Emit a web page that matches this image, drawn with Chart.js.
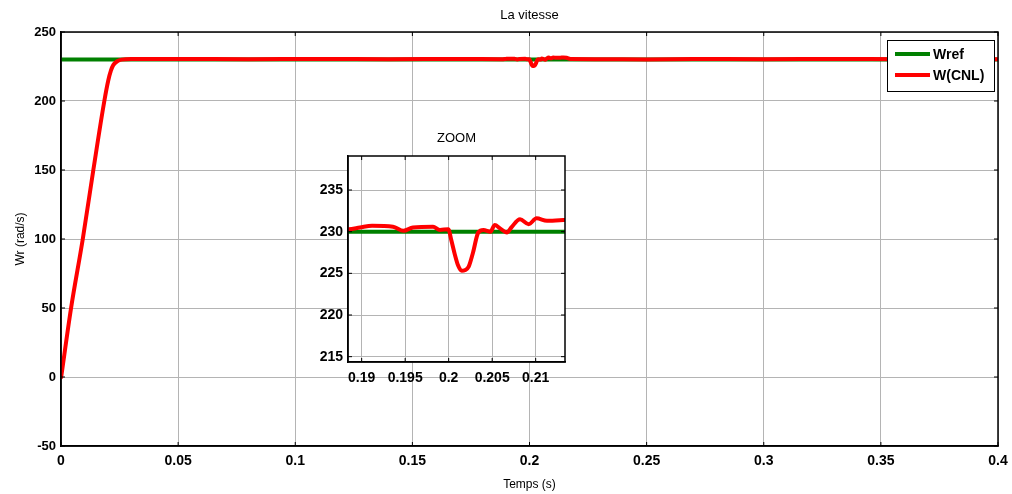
<!DOCTYPE html>
<html>
<head>
<meta charset="utf-8">
<script src="https://cdn.jsdelivr.net/npm/chart.js@4"></script>
<style>
  body { margin: 0; background: #fff; }
  #wrap { position: relative; width: 1012px; height: 494px; }
  #main { position: absolute; left: 0; top: 0; width: 1012px; height: 494px; }
  #zoom { position: absolute; left: 290px; top: 120px; width: 290px; height: 270px; }
</style>
</head>
<body>
<div id="wrap">
  <div id="main"><canvas id="mainChart"></canvas></div>
  <div id="zoom"><canvas id="zoomChart"></canvas></div>
</div>
<script>
// reference speed
const timeRef = [0, 0.4];
const wRef = [230, 230];

// measured speed W(CNL)
const timeW = [
  0, 0.0043, 0.0093, 0.0138, 0.0185, 0.0202, 0.0213, 0.0223, 0.024, 0.0259, 0.03,
  0.05, 0.08, 0.11, 0.14, 0.17,
  0.1885, 0.1898, 0.1912, 0.1936, 0.1948, 0.1959, 0.1982, 0.199, 0.19996,
  0.2003, 0.2007, 0.2011, 0.2015, 0.2019, 0.2023, 0.2028, 0.2034,
  0.204, 0.2048, 0.2053, 0.2059, 0.2067, 0.2072, 0.2082, 0.2092, 0.2101, 0.2113,
  0.2132, 0.2145, 0.2158, 0.2175,
  0.23, 0.25, 0.27, 0.3, 0.33, 0.36, 0.38, 0.4
];
const wCNL = [
  -1, 50, 100, 150, 200, 215, 222, 226, 228.8, 230, 230.4,
  230.4, 230.3, 230.5, 230.3, 230.4,
  230.3, 230.5, 230.7, 230.6, 230.1, 230.5, 230.6, 230.2, 230.3,
  229.0, 227.3, 225.9, 225.3, 225.4, 225.8, 227.5, 229.9,
  230.2, 230.0, 230.8, 230.4, 229.9, 230.5, 231.5, 230.9, 231.6, 231.3,
  231.4, 231.5, 231.3, 230.4,
  230.3, 230.1, 230.4, 230.3, 230.4, 230.3, 230.4, 230.3
];

const seriesNames = ['Wref', 'W(CNL)'];
const seriesColors = ['#008000', '#ff0000'];

const mainXTicks = [0, 0.05, 0.1, 0.15, 0.2, 0.25, 0.3, 0.35, 0.4];
const mainXLabels = ['0', '0.05', '0.1', '0.15', '0.2', '0.25', '0.3', '0.35', '0.4'];
const mainYTicks = [-50, 0, 50, 100, 150, 200, 250];

const zoomXTicks = [0.19, 0.195, 0.2, 0.205, 0.21];
const zoomXLabels = ['0.19', '0.195', '0.2', '0.205', '0.21'];
const zoomYTicks = [215, 220, 225, 230, 235];

const FONT = 'Liberation Sans, Arial, sans-serif';
const GRID = '#b4b4b4';

function toPoints(xs, ys) {
  return xs.map((x, i) => ({ x: x, y: ys[i] }));
}

function makeDatasets() {
  return [
    {
      label: seriesNames[0],
      data: toPoints(timeRef, wRef),
      borderColor: seriesColors[0],
      borderWidth: 4,
      pointRadius: 0,
      order: 1,
    },
    {
      label: seriesNames[1],
      data: toPoints(timeW, wCNL),
      borderColor: seriesColors[1],
      borderWidth: 4,
      pointRadius: 0,
      cubicInterpolationMode: 'monotone',
      order: 0,
    },
  ];
}

// black box round the axes plus small inward ticks, like matlab
const boxPlugin = {
  id: 'box',
  afterDatasetsDraw(chart) {
    const { ctx, chartArea: a, scales } = chart;
    ctx.save();
    ctx.strokeStyle = '#000';
    ctx.lineWidth = 1.5;
    ctx.strokeRect(a.left, a.top, a.right - a.left, a.bottom - a.top);
    ctx.lineWidth = 1;
    ctx.beginPath();
    scales.x.ticks.forEach(t => {
      const px = scales.x.getPixelForValue(t.value);
      ctx.moveTo(px, a.bottom); ctx.lineTo(px, a.bottom - 4);
      ctx.moveTo(px, a.top); ctx.lineTo(px, a.top + 4);
    });
    scales.y.ticks.forEach(t => {
      const py = scales.y.getPixelForValue(t.value);
      ctx.moveTo(a.left, py); ctx.lineTo(a.left + 4, py);
      ctx.moveTo(a.right, py); ctx.lineTo(a.right - 4, py);
    });
    ctx.stroke();
    ctx.restore();
  },
};

// title centred over the axes, not over the canvas
const headPlugin = {
  id: 'head',
  afterDraw(chart, args, opts) {
    const { ctx, chartArea: a } = chart;
    ctx.save();
    ctx.fillStyle = '#000';
    ctx.font = opts.font;
    ctx.textAlign = 'center';
    ctx.textBaseline = 'middle';
    ctx.fillText(opts.text, (a.left + a.right) / 2, opts.y);
    ctx.restore();
  },
};

const whiteAxes = {
  id: 'whiteAxes',
  beforeDraw(chart) {
    const { ctx, chartArea: a } = chart;
    ctx.save();
    ctx.fillStyle = '#fff';
    ctx.fillRect(a.left, a.top, a.right - a.left, a.bottom - a.top);
    ctx.restore();
  },
};

const boxLegend = {
  id: 'boxLegend',
  afterDraw(chart) {
    const { ctx, chartArea: a } = chart;
    const x0 = a.right - 111, y0 = a.top + 8, w = 107, h = 51;
    ctx.save();
    ctx.fillStyle = '#fff';
    ctx.fillRect(x0, y0, w, h);
    ctx.strokeStyle = '#000';
    ctx.lineWidth = 1;
    ctx.strokeRect(x0 + 0.5, y0 + 0.5, w, h);
    ctx.font = 'bold 14px ' + FONT;
    ctx.textBaseline = 'middle';
    chart.data.datasets.forEach((ds, i) => {
      const y = y0 + 14 + i * 21;
      ctx.strokeStyle = ds.borderColor;
      ctx.lineWidth = 4;
      ctx.beginPath();
      ctx.moveTo(x0 + 8, y); ctx.lineTo(x0 + 43, y);
      ctx.stroke();
      ctx.fillStyle = '#000';
      ctx.fillText(ds.label, x0 + 46, y + 1);
    });
    ctx.restore();
  },
};

function linScale(min, max, ticks, labels, fontSize, pad, fit) {
  return {
    type: 'linear',
    min: min,
    max: max,
    afterBuildTicks: s => { s.ticks = ticks.map(v => ({ value: v })); },
    afterFit: fit,
    grid: { color: GRID, lineWidth: 1, drawTicks: false },
    border: { display: true, color: '#000', width: 1.5 },
    ticks: {
      autoSkip: false,
      maxRotation: 0,
      padding: pad,
      color: '#000',
      font: { family: FONT, size: fontSize, weight: 'bold' },
      callback: (v, i) => labels ? labels[i] : String(v),
    },
  };
}

const mainX = linScale(0, 0.4, mainXTicks, mainXLabels, 14, 7, s => {
  s.height = 48; s.paddingLeft = 0; s.paddingRight = 0;
});
mainX.title = { display: true, text: 'Temps (s)', color: '#000', font: { family: FONT, size: 12 }, padding: { top: 0, bottom: 2 } };
const mainY = linScale(-50, 250, mainYTicks, null, 13, 5, s => { s.width = 61; });
mainY.title = { display: true, text: 'Wr (rad/s)', color: '#000', font: { family: FONT, size: 12 }, padding: { top: 13, bottom: 0 } };

new Chart(document.getElementById('mainChart'), {
  type: 'line',
  data: { datasets: makeDatasets() },
  options: {
    responsive: true,
    maintainAspectRatio: false,
    animation: false,
    parsing: false,
    layout: { padding: { top: 32, right: 14, left: 0, bottom: 0 } },
    scales: { x: mainX, y: mainY },
    plugins: {
      legend: { display: false },
      tooltip: { enabled: false },
      head: { text: 'La vitesse', y: 15, font: '13px ' + FONT },
    },
  },
  plugins: [boxPlugin, headPlugin, boxLegend],
});

new Chart(document.getElementById('zoomChart'), {
  type: 'line',
  data: { datasets: makeDatasets() },
  options: {
    responsive: true,
    maintainAspectRatio: false,
    animation: false,
    parsing: false,
    layout: { padding: { top: 36, right: 15, left: 0, bottom: 0 } },
    scales: {
      x: linScale(0.18843, 0.21337, zoomXTicks, zoomXLabels, 14, 8, s => {
        s.height = 28; s.paddingLeft = 0; s.paddingRight = 0;
      }),
      y: linScale(214.36, 239.08, zoomYTicks, null, 14, 5, s => { s.width = 58; }),
    },
    plugins: {
      legend: { display: false },
      tooltip: { enabled: false },
      head: { text: 'ZOOM', y: 18, font: '13px ' + FONT },
    },
  },
  plugins: [whiteAxes, boxPlugin, headPlugin],
});
</script>
</body>
</html>
